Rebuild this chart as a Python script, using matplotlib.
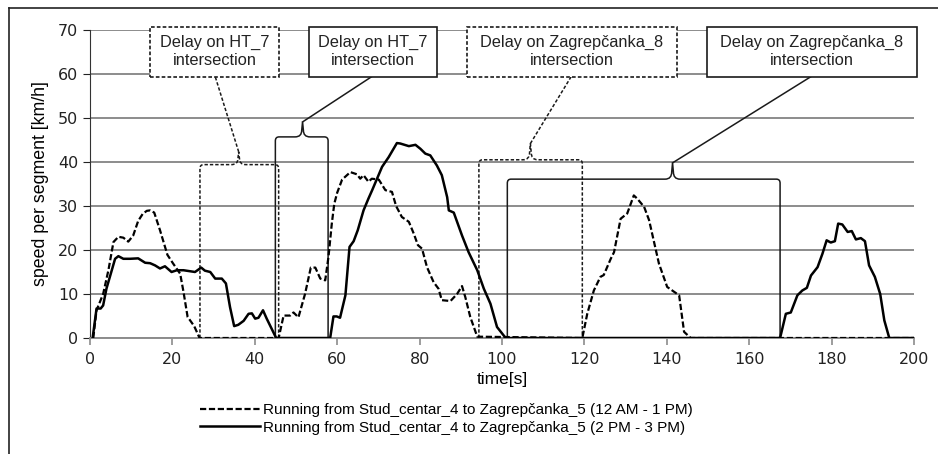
import matplotlib
matplotlib.use('Agg')
import matplotlib.pyplot as plt
from matplotlib.path import Path
from matplotlib.patches import PathPatch, Rectangle
from matplotlib.lines import Line2D

plt.rcParams['font.family'] = ['Liberation Sans', 'DejaVu Sans']

# speed profiles: time [s], speed [km/h]
morning_t = [0.8, 1.6, 3.2, 4.5, 5.7, 6.9, 8.1, 9.3, 10.5, 11.7, 12.8, 13.8, 14.6, 15.6,
             17.0, 18.8, 20.2, 21.9, 22.7, 23.7, 25.3, 26.6, 45.8, 47.0, 48.6, 49.4, 50.6,
             52.2, 53.6, 54.7, 55.9, 57.1, 57.9, 58.7, 59.3, 60.0, 61.2, 63.2, 64.8, 65.6,
             66.4, 67.6, 68.4, 70.1, 71.7, 73.3, 74.3, 75.7, 77.4, 78.6, 79.6, 80.6, 81.8,
             83.4, 84.6, 85.4, 87.5, 89.1, 90.3, 91.1, 92.3, 94.0, 119.5, 120.7, 122.3,
             123.9, 124.7, 126.4, 127.2, 128.8, 130.4, 132.0, 132.8, 134.5, 135.7, 138.1,
             140.1, 143.0, 144.2, 145.8, 200.0]
morning_v = [0.0, 6.3, 10.0, 15.5, 21.8, 23.0, 22.8, 21.9, 23.3, 26.6, 28.2, 28.9, 29.0, 28.5,
             24.5, 18.9, 16.9, 14.6, 10.5, 4.8, 2.7, 0.0, 0.0, 5.1, 5.1, 5.8, 4.7,
             10.0, 16.0, 16.0, 13.5, 13.1, 18.5, 26.0, 30.5, 33.0, 36.0, 37.7, 37.2, 36.2,
             37.0, 35.5, 36.2, 36.0, 33.6, 33.2, 30.0, 27.5, 26.4, 23.7, 21.1, 20.3, 16.1,
             12.7, 11.2, 8.6, 8.4, 10.0, 11.8, 9.3, 4.8, 0.3, 0.0, 5.5, 10.8,
             13.9, 14.3, 18.0, 19.5, 27.1, 28.3, 32.4, 31.7, 29.8, 26.8, 16.9,
             11.6, 9.7, 1.4, 0.0, 0.0]

afternoon_t = [0.65, 1.6, 2.6, 3.2, 4.0, 5.3, 6.1, 6.9, 8.1, 9.7, 11.7, 13.4, 14.6, 15.8,
               17.0, 18.2, 19.8, 21.1, 22.7, 25.5, 27.0, 27.9, 29.2, 30.4, 32.0, 33.0, 34.0,
               35.0, 36.0, 37.3, 38.5, 39.3, 40.1, 40.9, 42.0, 42.9, 45.2, 58.3, 59.1, 59.9,
               60.7, 62.0, 63.0, 64.0, 65.0, 66.4, 67.6, 68.5, 70.9, 72.5, 74.5, 75.3, 77.4,
               79.0, 80.2, 81.4, 82.6, 84.2, 85.4, 86.7, 87.1, 88.3, 90.3, 91.9, 94.0, 95.6,
               97.2, 98.8, 100.9, 167.5, 168.9, 170.1, 171.7, 172.9, 174.0, 175.0, 176.6,
               177.8, 178.8, 179.8, 180.8, 181.6, 182.6, 183.9, 184.9, 185.9, 187.1, 188.1,
               189.1, 190.5, 191.8, 192.8, 194.0, 200.0]
afternoon_v = [0.0, 6.7, 6.7, 7.4, 11.2, 15.4, 18.0, 18.6, 18.0, 18.0, 18.1, 17.1, 17.0, 16.5,
               15.8, 16.3, 15.0, 15.4, 15.4, 15.0, 16.0, 15.3, 15.0, 13.5, 13.5, 12.4, 7.0,
               2.7, 3.0, 3.9, 5.5, 5.6, 4.4, 4.6, 6.3, 4.4, 0.0, 0.0, 4.9, 4.9,
               4.6, 9.7, 20.7, 22.0, 24.5, 29.0, 31.7, 33.6, 38.9, 41.1, 44.3, 44.2, 43.6,
               43.9, 43.0, 41.9, 41.5, 39.2, 37.0, 32.0, 29.0, 28.5, 23.3, 19.5, 15.4, 11.2,
               7.8, 2.5, 0.0, 0.0, 5.5, 5.8, 9.7, 10.8, 11.4, 14.2, 16.1,
               19.2, 22.2, 21.7, 22.0, 26.0, 25.8, 24.1, 24.3, 22.4, 22.7, 22.0,
               16.5, 13.9, 10.0, 4.0, 0.0, 0.0]

labels = ['Running from Stud_centar_4 to Zagrep\u010danka_5 (12 AM - 1 PM)',
          'Running from Stud_centar_4 to Zagrep\u010danka_5 (2 PM - 3 PM)']

# delay windows: (start, end, top, brace tip, brace apex), dashed ones for the morning run
windows_morning = [(26.7, 45.8, 39.4, 36.1, 42.3), (94.4, 119.5, 40.5, 106.9, 44.2)]
windows_afternoon = [(45.0, 57.8, 45.7, 51.6, 49.1), (101.3, 167.5, 36.1, 141.4, 39.8)]
# callout boxes: (left, right, anchor x of leader line, text)
notes_morning = [(14.6, 45.8, 30.4, 'Delay on HT_7\nintersection'),
                 (91.4, 142.4, 116.8, 'Delay on Zagrep\u010danka_8\nintersection')]
notes_afternoon = [(53.1, 84.2, 68.4, 'Delay on HT_7\nintersection'),
                   (149.7, 200.7, 175.0, 'Delay on Zagrep\u010danka_8\nintersection')]
note_bottom, note_top = 59.4, 70.7

fig = plt.figure(figsize=(9.38, 4.54), dpi=100)
ax = fig.add_axes([0.0959, 0.2555, 0.8785, 0.6785])

ax.set_xlim(0, 200)
ax.set_ylim(0, 70)
ax.set_xticks(range(0, 201, 20))
ax.set_yticks(range(0, 71, 10))
ax.yaxis.grid(True, color='#8c8c8c', linewidth=1.4)
ax.set_axisbelow(True)
for s in ['top', 'right']:
    ax.spines[s].set_visible(False)
ax.spines['left'].set_color('#333333')
ax.spines['bottom'].set_color('#8c8c8c')
ax.spines['bottom'].set_linewidth(1.4)
ax.tick_params(axis='both', labelsize=11.5, colors='#222222', length=5,
               labelfontfamily='DejaVu Sans')
ax.tick_params(axis='x', color='#8c8c8c', width=1.2, pad=5)
ax.set_xlabel('time[s]', fontsize=12.5, labelpad=4)
ax.set_ylabel('speed per segment [km/h]', fontsize=12.8, labelpad=6)

l1, = ax.plot(morning_t, morning_v, color='black', linewidth=1.6,
              linestyle=(0, (2.8, 1.2)), zorder=4)
l2, = ax.plot(afternoon_t, afternoon_v, color='black', linewidth=1.8, zorder=4)


def brace_window(x0, x1, top, tip, apex, ls):
    r, hw, w = 0.9, 1.8, 0.2
    mid = top + (apex - top) * 0.45
    verts = [(x0, 0), (x0, top - r), (x0, top), (x0 + r, top),
             (tip - hw, top), (tip - w, top), (tip - w, mid), (tip, apex),
             (tip + w, mid), (tip + w, top), (tip + hw, top),
             (x1 - r, top), (x1, top), (x1, top - r), (x1, 0)]
    codes = [Path.MOVETO, Path.LINETO, Path.CURVE3, Path.CURVE3,
             Path.LINETO, Path.CURVE3, Path.CURVE3, Path.LINETO,
             Path.LINETO, Path.CURVE3, Path.CURVE3,
             Path.LINETO, Path.CURVE3, Path.CURVE3, Path.LINETO]
    ax.add_patch(PathPatch(Path(verts, codes), facecolor='none', edgecolor='#1a1a1a',
                           linewidth=1.1, linestyle=ls, zorder=3))


def callout(left, right, anchor, text, tip, apex, ls):
    ax.add_patch(Rectangle((left, note_bottom), right - left, note_top - note_bottom,
                           facecolor='white', edgecolor='#1a1a1a', linewidth=1.2,
                           linestyle=ls, zorder=5, clip_on=False))
    ax.text((left + right) / 2, (note_bottom + note_top) / 2, text, ha='center',
            va='center', fontsize=11.8, linespacing=1.25, zorder=6, color='#222222')
    ax.plot([tip, anchor], [apex, note_bottom], color='#1a1a1a', linewidth=1.1,
            linestyle=ls, zorder=3)


dots = (0, (2.2, 1.3))
for win, note in zip(windows_morning, notes_morning):
    brace_window(*win, dots)
    callout(*note, win[3], win[4], dots)
for win, note in zip(windows_afternoon, notes_afternoon):
    brace_window(*win, '-')
    callout(*note, win[3], win[4], '-')

fig.legend([l1, l2], labels, loc='center left', bbox_to_anchor=(200 / 938, 1 - 419 / 454),
           frameon=False, fontsize=11, handlelength=3.9, handletextpad=0.2,
           labelspacing=0.2, borderpad=0, borderaxespad=0)

# outer frame, cut off at the right and bottom like in the source
fig.add_artist(Line2D([9 / 938, 1], [1 - 8 / 454, 1 - 8 / 454], color='#222222', linewidth=1.2))
fig.add_artist(Line2D([9 / 938, 9 / 938], [1 - 8 / 454, 0], color='#222222', linewidth=1.2))

fig.savefig('out.png', dpi=100)
